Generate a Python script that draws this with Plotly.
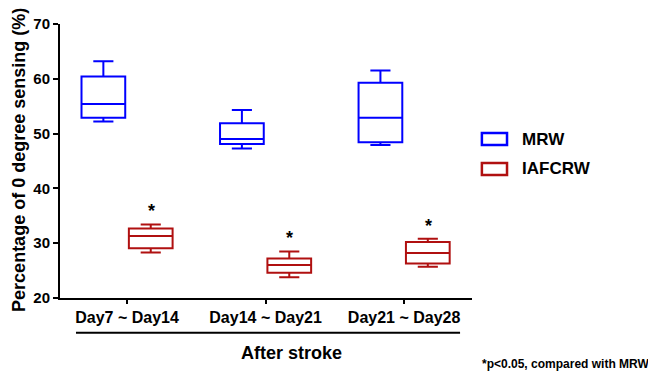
import plotly.graph_objects as go

categories = ["Day7 ~ Day14", "Day14 ~ Day21", "Day21 ~ Day28"]

mrw_lower = [52.2, 47.3, 47.9]
mrw_q1 = [52.9, 48.1, 48.4]
mrw_median = [55.4, 49.0, 52.9]
mrw_q3 = [60.4, 51.9, 59.3]
mrw_upper = [63.2, 54.3, 61.5]

iaf_lower = [28.3, 23.8, 25.7]
iaf_q1 = [29.1, 24.6, 26.3]
iaf_median = [31.3, 26.0, 28.2]
iaf_q3 = [32.7, 27.2, 30.2]
iaf_upper = [33.4, 28.5, 30.8]

series_names = ["MRW", "IAFCRW"]
y_ticks = [20, 30, 40, 50, 60, 70]

FONT = "Arial, Liberation Sans, Helvetica, sans-serif"
BLUE = "#0000FF"
RED = "#B01010"
colors = [BLUE, RED]

fig = go.Figure()
fig.add_trace(go.Box(
    name=series_names[0], x=categories, q1=mrw_q1, median=mrw_median, q3=mrw_q3,
    lowerfence=mrw_lower, upperfence=mrw_upper,
    line=dict(color=BLUE, width=2), fillcolor="rgba(0,0,0,0)",
    whiskerwidth=0.46, boxpoints=False, hoverinfo="skip",
))
fig.add_trace(go.Box(
    name=series_names[1], x=categories, q1=iaf_q1, median=iaf_median, q3=iaf_q3,
    lowerfence=iaf_lower, upperfence=iaf_upper,
    line=dict(color=RED, width=2), fillcolor="rgba(0,0,0,0)",
    whiskerwidth=0.46, boxpoints=False, hoverinfo="skip",
))

# significance asterisks above IAFCRW boxes
for c, u in zip(categories, iaf_upper):
    fig.add_annotation(x=c, y=u + 2.4, text="*", showarrow=False, xshift=24,
                       font=dict(family=FONT, size=18, color="black", weight="bold"),
                       yanchor="middle")

# y-axis title
fig.add_annotation(xref="paper", yref="paper", x=-0.0995, y=0.504,
                   text="Percentage of 0 degree sensing (%)", textangle=-90,
                   showarrow=False, xanchor="center", yanchor="middle",
                   font=dict(family=FONT, size=18, color="black", weight="bold"))
# x-axis title
fig.add_annotation(xref="paper", yref="paper", x=0.563, y=-0.2,
                   text="After stroke", showarrow=False,
                   xanchor="center", yanchor="middle",
                   font=dict(family=FONT, size=18, color="black", weight="bold"))
# footnote
fig.add_annotation(xref="paper", yref="paper", x=1.019, y=-0.242,
                   text="*p<0.05, compared with MRW", showarrow=False,
                   xanchor="left", yanchor="middle",
                   font=dict(family=FONT, size=12, color="black", weight="bold"))
# underline below category labels
fig.add_shape(type="line", xref="paper", yref="paper",
              x0=0.0388, x1=0.971, y0=-0.127, y1=-0.127,
              line=dict(color="black", width=2))

# legend (wide rectangle keys as in the original)
legend_rows = [(0.558, 0.602, 0.580), (0.449, 0.493, 0.471)]
for name, col, (y0, y1, yt) in zip(series_names, colors, legend_rows):
    fig.add_shape(type="rect", xref="paper", yref="paper",
                  x0=1.024, x1=1.085, y0=y0, y1=y1,
                  line=dict(color=col, width=2.5), fillcolor="white")
    fig.add_annotation(xref="paper", yref="paper", x=1.117, y=yt,
                       text=name, showarrow=False, xanchor="left", yanchor="middle",
                       font=dict(family=FONT, size=17, color="black", weight="bold"))

fig.update_layout(
    width=648, height=371,
    margin=dict(l=60, r=176, t=24, b=73),
    paper_bgcolor="white", plot_bgcolor="white",
    boxmode="group", boxgap=0.316, boxgroupgap=0.077,
    showlegend=False,
    font=dict(family=FONT, color="black"),
)
fig.update_xaxes(
    type="category", range=[-0.484, 2.49],
    showline=True, linecolor="black", linewidth=2,
    ticks="outside", ticklen=4, tickwidth=2, tickcolor="black",
    showgrid=False, zeroline=False,
    tickfont=dict(family=FONT, size=16, color="black", weight="bold"),
)
fig.update_yaxes(
    range=[20, 70], tickvals=y_ticks,
    showline=True, linecolor="black", linewidth=2,
    ticks="outside", ticklen=5, tickwidth=2, tickcolor="black",
    showgrid=False, zeroline=False,
    tickfont=dict(family=FONT, size=15, color="black", weight="bold"),
)

fig.write_html("out.html")
